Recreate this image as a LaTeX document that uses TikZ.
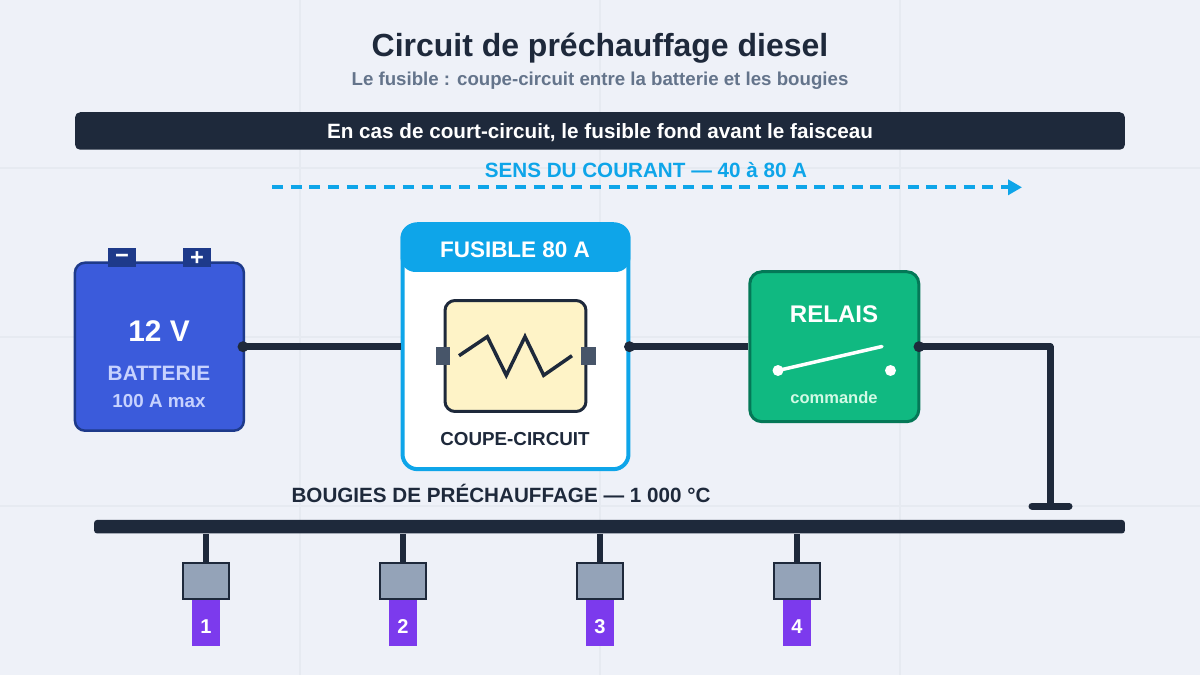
\documentclass[tikz,border=0pt]{standalone}
\usepackage{fontspec}
\setmainfont{Liberation Sans}
\usetikzlibrary{arrows.meta}
\definecolor{fond}{HTML}{EEF1F8}
\definecolor{grille}{HTML}{E6EAF1}
\definecolor{encre}{HTML}{1E293B}
\definecolor{gris}{HTML}{64748B}
\definecolor{ciel}{HTML}{0EA5E9}
\definecolor{bleu}{HTML}{3B5BDB}
\definecolor{bleufonce}{HTML}{1E3A8A}
\definecolor{bleuclair}{HTML}{C7D2FE}
\definecolor{vert}{HTML}{10B981}
\definecolor{vertfonce}{HTML}{047857}
\definecolor{vertclair}{HTML}{D1FAE5}
\definecolor{creme}{HTML}{FEF3C7}
\definecolor{ardoise}{HTML}{475569}
\definecolor{acier}{HTML}{94A3B8}
\definecolor{violet}{HTML}{7C3AED}

\begin{document}
\begin{tikzpicture}[x=0.02cm, y=-0.02cm,
    txt/.style={anchor=base, inner sep=0pt, font=\bfseries},
    wire/.style={draw=encre, line width=0.14cm, line join=round},
    dot/.style={circle, fill=encre, inner sep=0pt, minimum size=0.22cm},
    contact/.style={circle, fill=white, inner sep=0pt, minimum size=0.22cm},
    terminal/.style={fill=bleufonce, inner sep=0pt, minimum width=0.57cm, minimum height=0.37cm},
    pin/.style={fill=ardoise, inner sep=0pt, minimum width=0.29cm, minimum height=0.37cm},
    plug/.style={draw=encre, line width=0.04cm, fill=acier, inner sep=0pt, minimum width=0.92cm, minimum height=0.72cm},
    tip/.style={fill=violet, inner sep=0pt, minimum width=0.56cm, minimum height=0.94cm}]
  \useasboundingbox (0,0) rectangle (1200,675);
  \fill[fond] (0,0) rectangle (1200,675);

  % Grille
  \foreach \xx in {300,600,900}
    \draw[grille, line width=0.025cm] (\xx,0) -- (\xx,675);
  \foreach \yy in {168,337,506}
    \draw[grille, line width=0.025cm] (0,\yy) -- (1200,\yy);

  % Titres
  \node[txt, text=encre, font=\bfseries\fontsize{18.2}{20}\selectfont] (titre) at (600,57) {Circuit de préchauffage diesel};
  \node[txt, text=gris, font=\bfseries\fontsize{10.63}{12}\selectfont] (soustitre) at (600,86) {Le fusible : coupe-circuit entre la batterie et les bougies};
  \node[fill=encre, rounded corners=0.1cm, inner sep=0pt, minimum width=21cm, minimum height=0.75cm] (bandeau) at (600,131) {};
  \node[txt, text=white, font=\bfseries\fontsize{11.77}{14}\selectfont] (message) at (600,139) {En cas de court-circuit, le fusible fond avant le faisceau};

  % Sens du courant
  \node[txt, text=ciel, font=\bfseries\fontsize{11.75}{14}\selectfont] (sens) at (646,178) {SENS DU COURANT — 40 à 80 A};
  \coordinate (sensa) at (272,187.3);
  \coordinate (sensb) at (1022,187.3);
  \draw[ciel, line width=0.08cm, dash pattern=on 0.22cm off 0.154cm, -{Triangle[length=0.28cm, width=0.3cm]}] (sensa) -- (sensb);

  % Batterie
  \node[draw=bleufonce, line width=0.05cm, fill=bleu, rounded corners=0.2cm, inner sep=0pt, minimum width=3.38cm, minimum height=3.36cm] (batterie) at (159.4,346.7) {};
  \node[terminal] (moins) at (122,257.5) {};
  \node[terminal] (plus) at (197,257.5) {};
  \node[inner sep=0pt, text=white, font=\bfseries\fontsize{13.5}{14}\selectfont] (moinstxt) at (122,259) {−};
  \node[inner sep=0pt, text=white, font=\bfseries\fontsize{13.5}{14}\selectfont] (plustxt) at (197,259) {+};
  \node[txt, text=white, font=\bfseries\fontsize{17}{18}\selectfont] (tension) at (159,342) {12 V};
  \node[txt, text=bleuclair, font=\bfseries\fontsize{11.85}{14}\selectfont] (nombat) at (159,380) {BATTERIE};
  \node[txt, text=bleuclair, font=\bfseries\fontsize{10.7}{12}\selectfont] (maxbat) at (159,407.7) {100 A max};

  % Fusible
  \node[draw=ciel, line width=0.08cm, fill=white, rounded corners=0.3cm, inner sep=0pt, minimum width=4.52cm, minimum height=4.9cm] (fusible) at (515.5,346.7) {};
  \node[fill=ciel, rounded corners=0.3cm, inner sep=0pt, minimum width=4.6cm, minimum height=0.98cm] (entete) at (515.5,247.5) {};
  \node[txt, text=white, font=\bfseries\fontsize{12.8}{14}\selectfont] (nomfus) at (515,257.7) {FUSIBLE 80 A};
  \node[draw=encre, line width=0.06cm, fill=creme, rounded corners=0.2cm, inner sep=0pt, minimum width=2.82cm, minimum height=2.22cm] (element) at (515.5,356) {};
  \node[pin] (pina) at (443,356) {};
  \node[pin] (pinb) at (588.3,356) {};
  \draw[encre, line width=0.07cm] (459,355.7) -- (487.3,336.7) -- (506.3,375.3) -- (525,336.7) -- (543.7,375.3) -- (572,355.7);
  \node[txt, text=encre, font=\bfseries\fontsize{10.7}{12}\selectfont] (coupe) at (515,445.3) {COUPE-CIRCUIT};

  % Relais
  \node[draw=vertfonce, line width=0.06cm, fill=vert, rounded corners=0.24cm, inner sep=0pt, minimum width=3.38cm, minimum height=3cm] (relais) at (834.3,346.7) {};
  \node[txt, text=white, font=\bfseries\fontsize{13.7}{16}\selectfont] (nomrel) at (834,322.7) {RELAIS};
  \node[contact] (conta) at (778,370.5) {};
  \node[contact] (contb) at (890.5,370.5) {};
  \coordinate (lame) at (882,346.5);
  \draw[white, line width=0.07cm, line cap=round] (conta.center) -- (lame);
  \node[txt, text=vertclair, font=\bfseries\fontsize{9.4}{12}\selectfont] (commande) at (834,403.3) {commande};

  % Aristes
  \node[dot] (dota) at (243,346.7) {};
  \node[dot] (dotb) at (629.5,346.7) {};
  \node[dot] (dotc) at (919,346.7) {};
  \coordinate (coude) at (1050,346.7);
  \coordinate (masse) at (1050,506);
  \coordinate (massea) at (1032,506);
  \coordinate (masseb) at (1069,506);
  \draw[wire] (dota.center) -- (fusible.west);
  \draw[wire] (dotb.center) -- (relais.west);
  \draw[wire] (dotc.center) -- (coude) -- (masse);
  \draw[wire, line cap=round] (massea) -- (masseb);

  % Bougies
  \node[txt, text=encre, font=\bfseries\fontsize{11.75}{14}\selectfont] (bougies) at (501,502) {BOUGIES DE PRÉCHAUFFAGE — 1 000 °C};
  \node[fill=encre, rounded corners=0.06cm, inner sep=0pt, minimum width=20.62cm, minimum height=0.27cm] (bus) at (609.5,526.7) {};
  \foreach \i/\xx in {1/206,2/403,3/600,4/797} {
    \node[tip] (tip\i) at (\xx,623) {};
    \node[plug] (plug\i) at (\xx,581) {};
    \draw[encre, line width=0.12cm] (plug\i.north |- bus.south) -- (plug\i.north);
    \node[txt, text=white, font=\bfseries\fontsize{11.4}{14}\selectfont] (num\i) at (\xx,633.5) {\i};
  }
\end{tikzpicture}
\end{document}
